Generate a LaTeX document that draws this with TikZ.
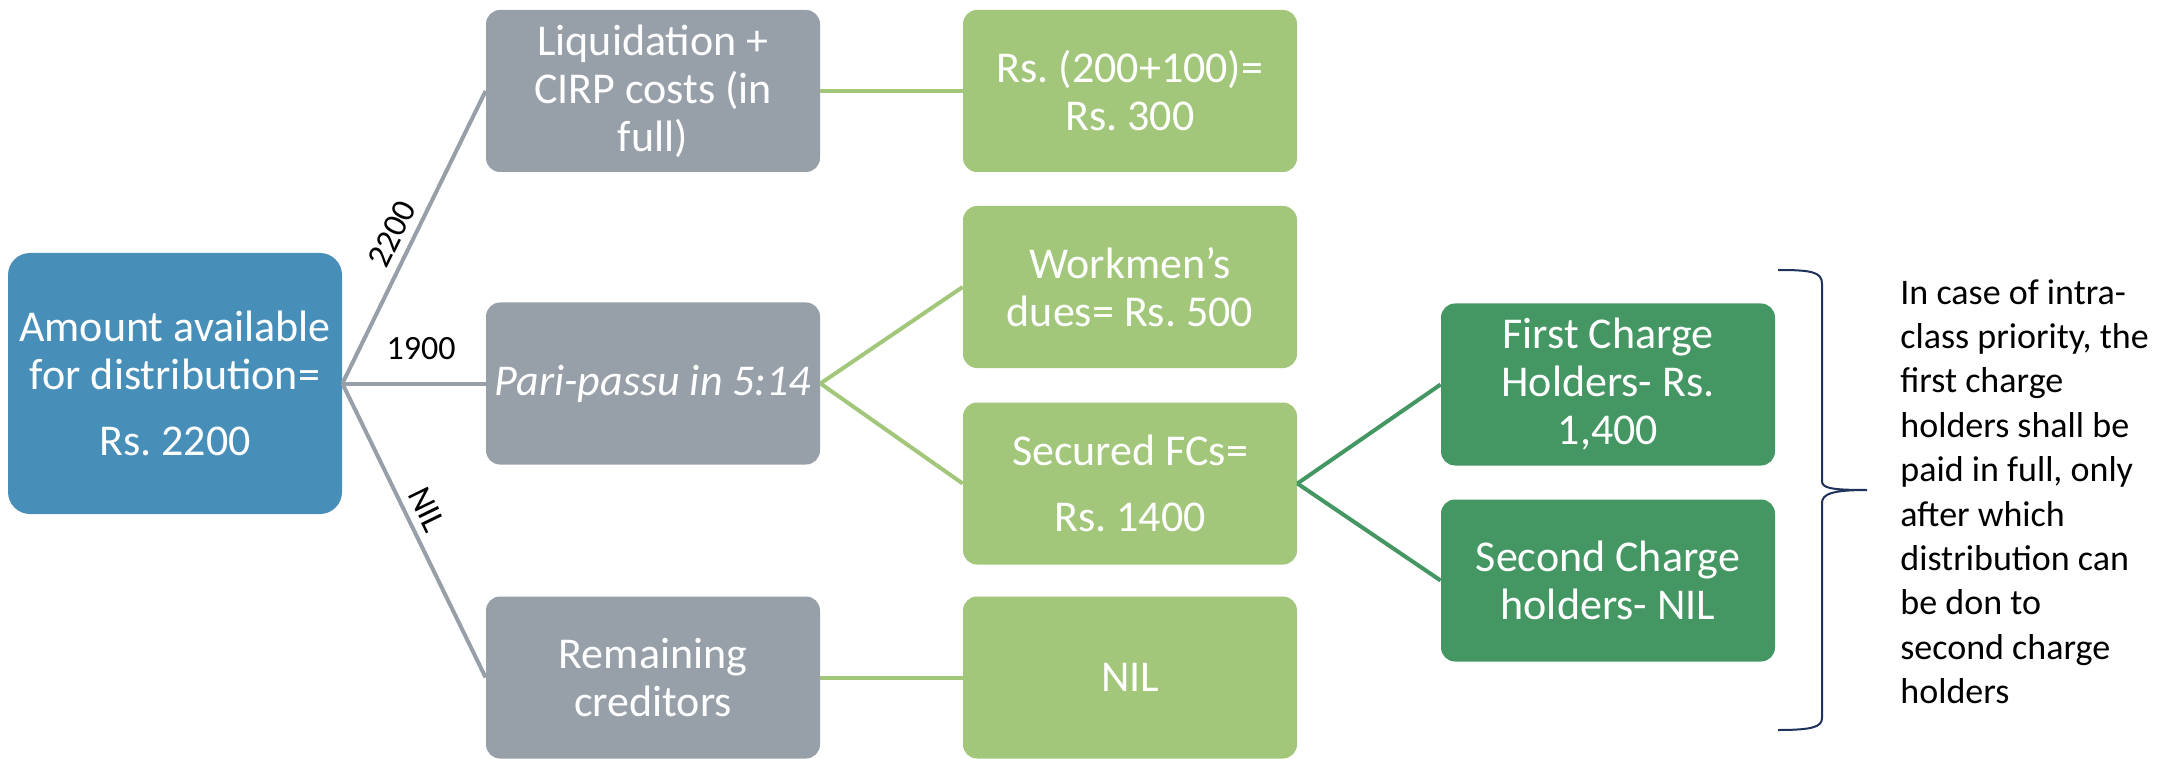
\documentclass[tikz,border=0pt]{standalone}
\usepackage{fontspec}
\setmainfont{Carlito}
\frenchspacing
\definecolor{amount}{RGB}{71,143,185}
\definecolor{claimgray}{RGB}{151,159,168}
\definecolor{paidgreen}{RGB}{162,199,122}
\definecolor{chargegreen}{RGB}{68,151,98}
\definecolor{bracenavy}{RGB}{31,50,92}
\definecolor{ink}{RGB}{0,0,0}

\begin{document}
\begin{tikzpicture}[x=.5pt,y=-.5pt,
 every node/.style={font=\fontsize{22}{24}\selectfont},
 box/.style={rounded corners=7pt,text=white,align=center,
  minimum width=167pt,minimum height=81pt,inner sep=3pt},
 claim/.style={box,fill=claimgray},
 paid/.style={box,fill=paidgreen},
 charge/.style={box,fill=chargegreen},
 grayline/.style={claimgray,line width=2pt},
 greenline/.style={paidgreen,line width=2pt},
 chargeline/.style={chargegreen,line width=2pt},
 amt/.style={font=\fontsize{17}{20}\selectfont,text=ink,sloped,above=3pt,inner sep=1pt}]
\useasboundingbox (0,0) rectangle (2179,759);
\node[box,fill=amount,rounded corners=11pt,minimum height=130.5pt] (avail) at (175,383.5)
 {Amount available\\for distribution=\\[9pt]Rs. 2200};
\node[claim] (liq) at (653,91) {Liquidation +\\CIRP costs (in\\full)};
\node[claim] (pari) at (653,383.5) {\textit{Pari-passu in 5:14}};
\node[claim] (rem) at (653,677.5) {Remaining\\creditors};
\node[paid] (costs) at (1130,91) {Rs. (200+100)=\\Rs. 300};
\node[paid] (workmen) at (1130,287) {Workmen’s\\dues= Rs. 500};
\node[paid] (secured) at (1130,483.5) {Secured FCs=\\[9pt]Rs. 1400};
\node[paid] (nilpay) at (1130,677.5) {NIL};
\node[charge] (first) at (1608,384.5) {First Charge\\Holders- Rs.\\1,400};
\node[charge] (second) at (1608,580.5) {Second Charge\\holders- NIL};

\draw[grayline] (avail.east) -- node[amt,pos=.48] {2200} (liq.west);
\draw[grayline] (avail.east) -- node[amt,pos=.55,above=7pt] {1900} (pari.west);
\draw[grayline] (avail.east) -- node[amt,pos=.46] {NIL} (rem.west);
\draw[greenline] (liq.east) -- (costs.west);
\draw[greenline] (rem.east) -- (nilpay.west);
\foreach \b in {workmen,secured}
 \draw[greenline] (pari.east) -- (\b.west);
\foreach \b in {first,second}
 \draw[chargeline] (secured.east) -- (\b.west);

\draw[bracenavy,line width=1pt] (1778,270) .. controls (1812,270) and (1822,272) .. (1822,284)
 -- (1822,481) .. controls (1822,488) and (1830,490) .. (1867,490)
 .. controls (1832,490) and (1822,494) .. (1822,503)
 -- (1822,718) .. controls (1822,727) and (1812,730) .. (1778,730);

\node[font=\fontsize{18}{22.2}\selectfont,text=ink,align=left,anchor=north west,inner sep=0pt]
 (note) at (1900,279)
 {In case of intra-\\class priority, the\\first charge\\holders shall be\\paid in full, only\\after which\\distribution can\\be don to\\second charge\\holders};
\end{tikzpicture}
\end{document}
